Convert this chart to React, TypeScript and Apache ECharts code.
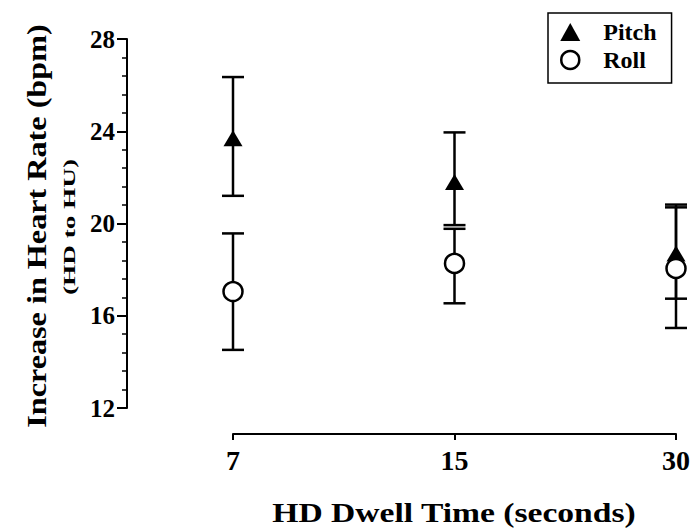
import React, { useEffect, useRef } from 'react';
import * as echarts from 'echarts';

const categories = ['7', '15', '30'];
const pitchMean = [23.7, 21.8, 18.7];
const pitchLow = [21.2, 19.93, 16.74];
const pitchHigh = [26.35, 23.95, 20.82];
const rollMean = [17.05, 18.27, 18.05];
const rollLow = [14.52, 16.54, 15.47];
const rollHigh = [19.57, 19.77, 20.7];
const yMin = 12;
const yMax = 28;
const yStep = 4;

const FONT = "'Liberation Serif', 'Times New Roman', serif";

export default function App() {
  const ref = useRef<HTMLDivElement>(null);

  useEffect(() => {
    document.body.style.margin = '0';
    const chart = echarts.init(ref.current!, null, { renderer: 'svg' });

    const errRender = (params: any, api: any) => {
      const x = api.value(0);
      const lo = api.coord([x, api.value(1)]);
      const hi = api.coord([x, api.value(2)]);
      const half = 11;
      const style = { stroke: '#000', lineWidth: 2.5 };
      return {
        type: 'group',
        children: [
          { type: 'line', shape: { x1: hi[0], y1: hi[1], x2: lo[0], y2: lo[1] }, style },
          { type: 'line', shape: { x1: hi[0] - half, y1: hi[1], x2: hi[0] + half, y2: hi[1] }, style },
          { type: 'line', shape: { x1: lo[0] - half, y1: lo[1], x2: lo[0] + half, y2: lo[1] }, style },
        ],
      };
    };

    const pitchErr = categories.map((_, i) => [i, pitchLow[i], pitchHigh[i]]);
    const rollErr = categories.map((_, i) => [i, rollLow[i], rollHigh[i]]);

    chart.setOption({
      animation: false,
      backgroundColor: '#fff',
      grid: { left: 233, right: 21, top: 39, bottom: 121 },
      xAxis: {
        type: 'category',
        data: categories,
        boundaryGap: false,
        offset: 26,
        axisLine: { show: true, lineStyle: { color: '#000', width: 2 } },
        axisTick: { show: true, length: 6, alignWithLabel: true, lineStyle: { color: '#000', width: 2 } },
        axisLabel: { color: '#000', fontFamily: FONT, fontWeight: 'bold', fontSize: 28, margin: 12 },
        splitLine: { show: false },
      },
      yAxis: {
        type: 'value',
        min: yMin,
        max: yMax,
        interval: yStep,
        offset: 106,
        axisLine: { show: true, lineStyle: { color: '#000', width: 2 } },
        axisTick: { show: true, length: 10, lineStyle: { color: '#000', width: 2 } },
        minorTick: { show: true, splitNumber: 5, length: 5, lineStyle: { color: '#000', width: 1.5 } },
        splitLine: { show: false },
        minorSplitLine: { show: false },
        axisLabel: { color: '#000', fontFamily: FONT, fontWeight: 'bold', fontSize: 25, margin: 12 },
      },
      legend: {
        left: 548,
        top: 13,
        orient: 'vertical',
        borderColor: '#000',
        borderWidth: 1.5,
        borderRadius: 0,
        padding: [7, 15, 11, 12],
        itemGap: 4,
        itemWidth: 20,
        itemHeight: 18,
        symbolKeepAspect: true,
        textStyle: { color: '#000', fontFamily: FONT, fontWeight: 'bold', fontSize: 24, padding: [0, 0, 0, 18] },
        data: [
          { name: 'Pitch', icon: 'triangle', itemStyle: { color: '#000', borderWidth: 0 } },
          { name: 'Roll', icon: 'circle', itemStyle: { color: '#fff', borderColor: '#000', borderWidth: 2.5 } },
        ],
      },
      graphic: [
        {
          type: 'text',
          x: 37,
          y: 226,
          rotation: Math.PI / 2,
          scaleX: 1.15,
          style: {
            text: 'Increase in Heart Rate (bpm)',
            fontFamily: FONT,
            fontWeight: 'bold',
            fontSize: 28,
            fill: '#000',
            align: 'center',
            verticalAlign: 'middle',
          },
        },
        {
          type: 'text',
          x: 70,
          y: 227,
          rotation: Math.PI / 2,
          scaleX: 1.7,
          style: {
            text: '(HD to HU)',
            fontFamily: FONT,
            fontWeight: 'bold',
            fontSize: 16,
            fill: '#000',
            align: 'center',
            verticalAlign: 'middle',
          },
        },
        {
          type: 'text',
          x: 454,
          y: 512,
          scaleX: 1.2,
          style: {
            text: 'HD Dwell Time (seconds)',
            fontFamily: FONT,
            fontWeight: 'bold',
            fontSize: 28,
            fill: '#000',
            align: 'center',
            verticalAlign: 'middle',
          },
        },
      ],
      series: [
        {
          name: 'Pitch error',
          type: 'custom',
          renderItem: errRender,
          data: pitchErr,
          encode: { x: 0, y: [1, 2] },
          z: 1,
          silent: true,
        },
        {
          name: 'Roll error',
          type: 'custom',
          renderItem: errRender,
          data: rollErr,
          encode: { x: 0, y: [1, 2] },
          z: 1,
          silent: true,
        },
        {
          name: 'Pitch',
          type: 'scatter',
          data: pitchMean,
          symbol: 'triangle',
          symbolSize: [19, 16],
          itemStyle: { color: '#000', opacity: 1 },
          z: 3,
        },
        {
          name: 'Roll',
          type: 'scatter',
          data: rollMean,
          symbol: 'circle',
          symbolSize: 19,
          itemStyle: { color: '#fff', borderColor: '#000', borderWidth: 2.5, opacity: 1 },
          z: 4,
        },
      ],
    });

    return () => chart.dispose();
  }, []);

  return (
    <div
      ref={ref}
      style={{ width: 697, height: 529, position: 'absolute', left: 0, top: 0, background: '#fff' }}
    />
  );
}
